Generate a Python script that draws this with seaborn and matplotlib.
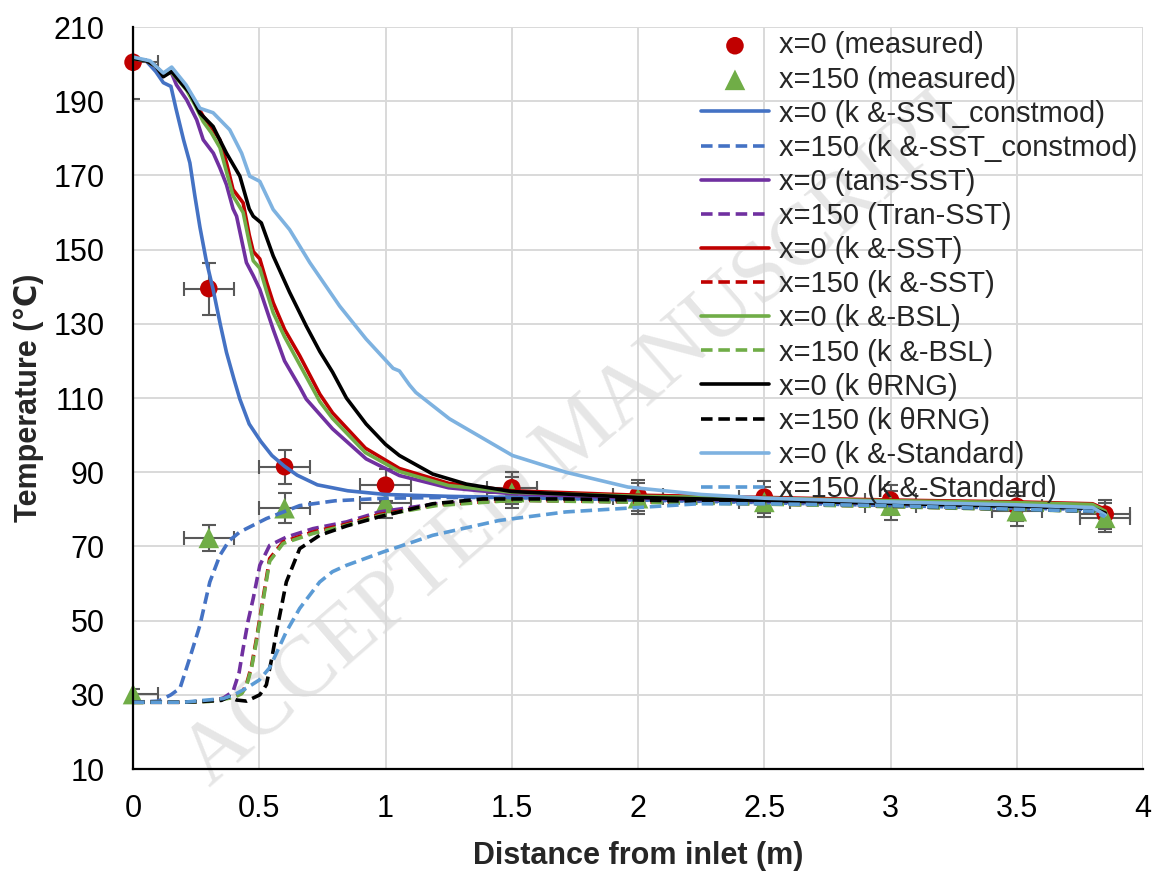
import matplotlib
matplotlib.use("Agg")
import matplotlib.pyplot as plt
import seaborn as sns
import numpy as np

sns.set_style("white")
plt.rcParams['font.family'] = ['Liberation Sans', 'DejaVu Sans']

# measured points
meas_x = [0, 0.3, 0.6, 1.0, 1.5, 2.0, 2.5, 3.0, 3.5, 3.85]
meas_xerr = [0.1] * 10
meas0_T = [200.5, 139.5, 91.5, 86.5, 85.8, 83.8, 83.3, 82.5, 80.8, 78.7]
meas0_err = [10.0, 7.0, 4.6, 4.3, 4.3, 4.2, 4.2, 4.1, 4.0, 3.9]
meas150_T = [30.2, 72.3, 80.3, 81.7, 84.5, 83.0, 82.0, 81.0, 79.5, 77.7]
meas150_err = [1.5, 3.6, 4.0, 4.1, 4.2, 4.2, 4.1, 4.0, 4.0, 3.9]

# x=0 curves (solid)
constmod0_x = [0, 0.05, 0.09, 0.12, 0.15, 0.17, 0.2, 0.225, 0.245, 0.265, 0.29, 0.317, 0.345, 0.37, 0.4, 0.423,
               0.46, 0.506, 0.55, 0.6, 0.65, 0.73, 0.85, 1.0, 1.25, 1.5, 2.0, 2.5, 3.0, 3.5, 3.8, 3.85]
constmod0_T = [201.5, 201, 198, 195, 194, 188, 179.6, 173.4, 164.4, 156, 147, 139.3, 130, 122.3, 115, 109.7,
               103, 98.3, 94.5, 91.6, 89.2, 86.6, 85, 84, 83.5, 83.2, 82.6, 82, 81.5, 81, 80.5, 79]

trans0_x = [0, 0.05, 0.09, 0.12, 0.15, 0.172, 0.212, 0.252, 0.278, 0.318, 0.344, 0.37, 0.396, 0.41, 0.449, 0.476,
            0.502, 0.555, 0.6, 0.66, 0.686, 0.79, 0.923, 1.055, 1.25, 1.5, 2.0, 2.5, 3.0, 3.5, 3.8, 3.85]
trans0_T = [201.5, 201, 199.5, 197, 198, 194.4, 190.4, 185, 179.6, 176, 172, 167.5, 161, 159, 146.5, 143,
            139.3, 128.5, 120, 113, 109.7, 101.7, 93.6, 89.1, 85.8, 84.2, 83, 82.3, 81.6, 81, 80.5, 79]

sst0_x = [0, 0.05, 0.09, 0.12, 0.15, 0.212, 0.245, 0.278, 0.31, 0.344, 0.37, 0.396, 0.436, 0.46, 0.476, 0.502,
          0.53, 0.555, 0.6, 0.66, 0.74, 0.79, 0.92, 1.055, 1.25, 1.5, 2.0, 2.5, 3.0, 3.5, 3.8, 3.85]
sst0_T = [201.5, 201, 199.5, 197, 198, 193.5, 190, 185.9, 183, 179.6, 173.4, 166.2, 162.6, 154, 149.5, 147.5,
          141, 135.7, 128.5, 121.4, 111, 106, 96.5, 91, 87, 85, 83.8, 83.2, 82.5, 82, 81.5, 80]

bsl0_x = sst0_x
bsl0_T = [201.5, 201, 199.5, 197, 198, 193, 189, 184.5, 181.5, 177.5, 171, 164.5, 160, 152, 147, 145,
          138.5, 133, 126.5, 119, 109, 104.5, 95.3, 90.2, 86.4, 84.6, 83.5, 83, 82.3, 81.8, 81.3, 79.5]

rng0_x = [0, 0.05, 0.09, 0.12, 0.153, 0.19, 0.225, 0.265, 0.317, 0.37, 0.423, 0.46, 0.476, 0.508, 0.555, 0.62,
          0.686, 0.74, 0.79, 0.845, 0.923, 1.0, 1.055, 1.187, 1.32, 1.5, 2.0, 2.5, 3.0, 3.5, 3.8, 3.85]
rng0_T = [201.5, 201, 199.5, 196.6, 198, 195, 192.2, 186.8, 183.2, 176, 169.8, 161, 159, 157.2, 148.3, 138.5,
          129.4, 122.5, 117, 110, 103, 97.5, 94.5, 89.5, 86.8, 84.8, 83.2, 82.4, 81.6, 80.8, 80.3, 79]

std0_x = [0, 0.067, 0.12, 0.153, 0.21, 0.265, 0.317, 0.383, 0.43, 0.462, 0.502, 0.555, 0.62, 0.70, 0.818, 0.923,
          1.03, 1.055, 1.095, 1.12, 1.253, 1.503, 1.714, 1.96, 2.25, 2.5, 3.0, 3.5, 3.8, 3.85]
std0_T = [201.9, 200.9, 197.6, 199.2, 194.4, 188.1, 186.9, 182.3, 176, 169.8, 168.4, 160.8, 155.4, 146.5, 134.8, 125.9,
          118, 117.3, 113.5, 111.5, 104.4, 94.5, 90, 86, 84, 83, 82, 81.2, 80.5, 78.5]

# x=150 curves (dashed)
constmod150_x = [0, 0.1, 0.15, 0.186, 0.225, 0.265, 0.304, 0.344, 0.38, 0.423, 0.528, 0.66, 0.8, 1.0, 1.25, 1.5,
                 2.0, 2.5, 3.0, 3.5, 3.8, 3.85]
constmod150_T = [28, 28.3, 30, 31.8, 40, 48.8, 60.4, 67.6, 71.5, 73.9, 77.5, 81, 82.3, 83, 83.2, 83.2,
                 82.5, 81.8, 81, 80.3, 80, 79]

trans150_x = [0, 0.2, 0.3, 0.357, 0.396, 0.42, 0.436, 0.456, 0.476, 0.502, 0.541, 0.607, 0.713, 0.845, 0.976, 1.2,
              1.5, 2.0, 2.5, 3.0, 3.5, 3.8, 3.85]
trans150_T = [28, 28, 28.3, 29.1, 30.9, 36, 42.5, 50, 56, 64.9, 70.3, 72.5, 74.8, 76.6, 79.3, 81.5,
              82.5, 82, 81.5, 80.8, 80, 79.6, 78.5]

sst150_x = [0, 0.2, 0.3, 0.357, 0.4, 0.43, 0.449, 0.47, 0.489, 0.515, 0.541, 0.594, 0.713, 0.845, 0.976, 1.2,
            1.5, 2.0, 2.5, 3.0, 3.5, 3.8, 3.85]
sst150_T = [28, 28, 28.3, 29, 29.5, 30.5, 32.7, 38, 45.2, 56, 66.7, 71.2, 73.9, 76, 78.6, 81.2,
            82.5, 82, 81.5, 80.8, 80, 79.6, 78.5]
bsl150_x = sst150_x
bsl150_T = [28, 28, 28.2, 28.8, 29.3, 30.3, 32.3, 37.5, 44.5, 55.3, 66, 70.8, 73.5, 75.7, 78.3, 81,
            82.4, 81.9, 81.4, 80.7, 79.9, 79.5, 78.3]

rng150_x = [0, 0.2, 0.35, 0.38, 0.41, 0.45, 0.502, 0.528, 0.55, 0.568, 0.607, 0.66, 0.739, 0.845, 0.976, 1.187,
            1.385, 1.7, 2.0, 2.5, 3.0, 3.5, 3.8, 3.85]
rng150_T = [28, 28, 28.5, 29.5, 28.6, 28.3, 30, 32.7, 40, 47, 60.4, 69.4, 73, 75.5, 78, 81.5,
            82.8, 82.8, 82.5, 81.8, 81, 80, 79.5, 78.5]

std150_x = [0, 0.2, 0.357, 0.4, 0.449, 0.5, 0.541, 0.607, 0.66, 0.739, 0.79, 0.845, 0.99, 1.187, 1.45, 1.714,
            1.98, 2.24, 2.5, 3.0, 3.5, 3.8, 3.85]
std150_T = [28, 28, 29, 30, 31.8, 34, 37.3, 47, 53.3, 60.4, 63.2, 64.9, 68.5, 73, 77, 79.3,
            80.4, 81.5, 81.5, 81, 80, 79.5, 78]

xticks = [0, 0.5, 1, 1.5, 2, 2.5, 3, 3.5, 4]
xtick_labels = ['0', '0.5', '1', '1.5', '2', '2.5', '3', '3.5', '4']
yticks = [10, 30, 50, 70, 90, 110, 130, 150, 170, 190, 210]

series = [
    ('x=0 (k &-SST_constmod)', constmod0_x, constmod0_T, '#4472C4', '-'),
    ('x=150 (k &-SST_constmod)', constmod150_x, constmod150_T, '#4472C4', '--'),
    ('x=0 (tans-SST)', trans0_x, trans0_T, '#7030A0', '-'),
    ('x=150 (Tran-SST)', trans150_x, trans150_T, '#7030A0', '--'),
    ('x=0 (k &-SST)', sst0_x, sst0_T, '#C00000', '-'),
    ('x=150 (k &-SST)', sst150_x, sst150_T, '#C00000', '--'),
    ('x=0 (k &-BSL)', bsl0_x, bsl0_T, '#70AD47', '-'),
    ('x=150 (k &-BSL)', bsl150_x, bsl150_T, '#70AD47', '--'),
    ('x=0 (k θRNG)', rng0_x, rng0_T, '#000000', '-'),
    ('x=150 (k θRNG)', rng150_x, rng150_T, '#000000', '--'),
    ('x=0 (k &-Standard)', std0_x, std0_T, '#7EB2E0', '-'),
    ('x=150 (k &-Standard)', std150_x, std150_T, '#5B9BD5', '--'),
]

fig = plt.figure(figsize=(11.62, 8.72), dpi=100)
ax = fig.add_axes([0.1145, 0.1181, 0.8692, 0.8509])
ax.patch.set_alpha(0)

# faint watermark of the source manuscript, behind everything
fig.text(0.5, 0.5, 'ACCEPTED MANUSCRIPT', fontsize=62, color='#E6E6E6', rotation=41,
         ha='center', va='center', family=['Liberation Serif', 'DejaVu Serif'], zorder=-1)

# error bars (under markers)
ax.errorbar(meas_x, meas0_T, xerr=meas_xerr, yerr=meas0_err, fmt='none', ecolor='#595959',
            elinewidth=1.5, capsize=5, capthick=1.5, zorder=1)
ax.errorbar(meas_x, meas150_T, xerr=meas_xerr, yerr=meas150_err, fmt='none', ecolor='#595959',
            elinewidth=1.5, capsize=5, capthick=1.5, zorder=1)

sns.scatterplot(x=meas_x, y=meas0_T, ax=ax, marker='o', s=160, color='#C00000', edgecolor='none',
                clip_on=False, zorder=1.5, label='x=0 (measured)')
sns.scatterplot(x=meas_x, y=meas150_T, ax=ax, marker='^', s=220, color='#70AD47', edgecolor='none',
                clip_on=False, zorder=1.6, label='x=150 (measured)')

for label, xs, ts, col, ls in series:
    style = '-' if ls == '-' else (0, (3.2, 1.6))
    sns.lineplot(x=xs, y=ts, ax=ax, color=col, lw=2.6, linestyle=style, label=label,
                 sort=False, estimator=None, zorder=2)

ax.set_xlim(0, 4)
ax.set_ylim(10, 210)
ax.set_xticks(xticks)
ax.set_xticklabels(xtick_labels)
ax.set_yticks(yticks)
ax.tick_params(axis='both', length=0, labelsize=22, colors='black')
ax.tick_params(axis='x', pad=18)
ax.tick_params(axis='y', pad=20.5)
ax.grid(True, color='#D9D9D9', lw=1.4)
ax.set_axisbelow(True)
for s in ['top', 'right']:
    ax.spines[s].set_visible(False)
for s in ['left', 'bottom']:
    ax.spines[s].set_color('black')
    ax.spines[s].set_linewidth(1.6)

ax.set_xlabel('Distance from inlet (m)', fontsize=22, fontweight='bold', labelpad=12)
ax.set_ylabel('Temperature (℃)', fontsize=22, fontweight='bold', labelpad=7)

handles, labels = ax.get_legend_handles_labels()
order = ['x=0 (measured)', 'x=150 (measured)'] + [s[0] for s in series]
hmap = dict(zip(labels, handles))
ax.legend([hmap[l] for l in order], order, loc='upper left', bbox_to_anchor=(0.603, 0.964),
          bbox_transform=fig.transFigure, frameon=False, fontsize=21, handlelength=2.35,
          handletextpad=0.35, labelspacing=0.21, borderpad=0, borderaxespad=0)

fig.savefig('out.png', dpi=100)
